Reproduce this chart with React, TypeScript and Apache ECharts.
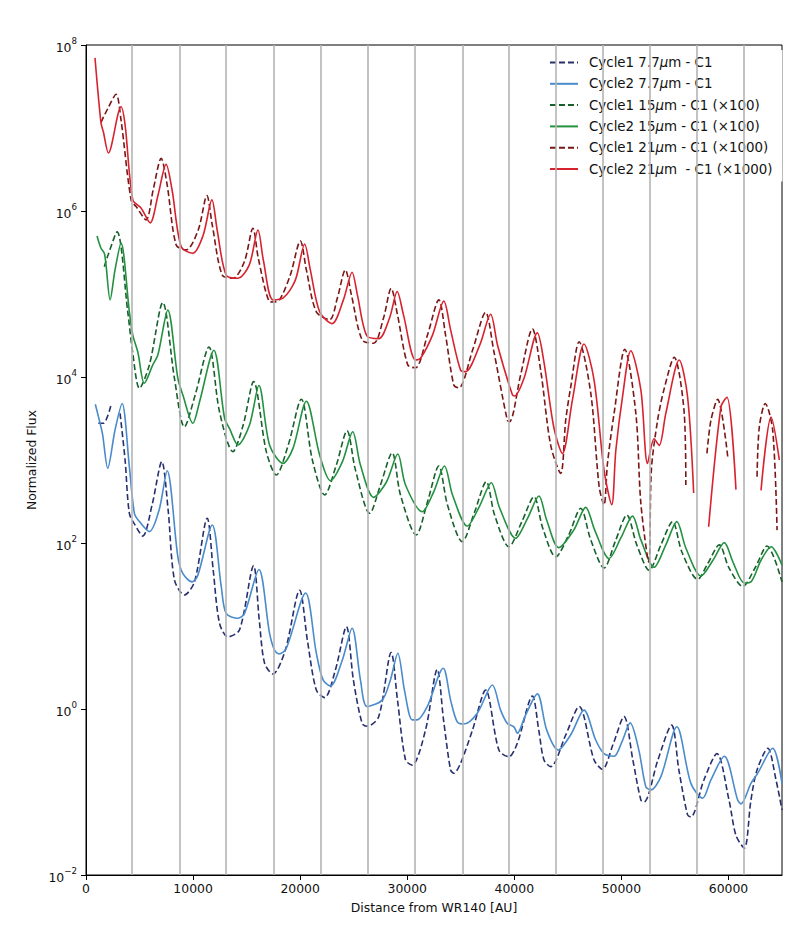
import React, { useEffect, useRef } from 'react';
import * as echarts from 'echarts';

// ---- data ----
const xTickStep = 10000;
const yTickValues = [0.01, 1, 100, 1e4, 1e6, 1e8];
const cycleLines = [4300, 8730, 13090, 17520, 21910, 26350, 30710, 35140, 39500, 43870, 48230, 52630, 57050, 61420];

const names = [
  'Cycle1 7.7μm - C1',
  'Cycle2 7.7μm - C1',
  'Cycle1 15μm - C1 (×100)',
  'Cycle2 15μm - C1 (×100)',
  'Cycle1 21μm - C1 (×1000)',
  'Cycle2 21μm  - C1 (×1000)',
];

const cycle1_7p7 = [
  [1150, 2.77e3], [1620, 2.77e3], [2340, 4.6e3], [2800, null], [3180, 3.65e3], [3650, 1.0e3], [4050, 228], [4580, 165],
  [5300, 121], [6170, 287], [7080, 955], [7670, 250], [8260, 36], [9190, 23.6], [10130, 34], [11320, 199], [11880, 47],
  [12470, 10.8], [13250, 7.4], [14340, 9.0], [15650, 53], [16180, 11.8], [16680, 3.55], [17460, 2.64], [18610, 5.1],
  [19950, 27], [20670, 6.8], [21510, 1.69], [22290, 1.37], [23290, 2.95], [24320, 9.8], [24970, 2.24], [25790, 0.67],
  [26250, 0.62], [27340, 0.81], [28500, 4.8], [29090, 1.28], [29840, 0.243], [30460, 0.211], [31710, 0.56], [32800, 3.0],
  [33390, 0.74], [34050, 0.184], [34350, 0.168], [34980, 0.222], [36100, 0.56], [37320, 1.69], [38560, 0.32], [39500, 0.266],
  [40280, 0.386], [41690, 1.43], [42280, 0.56], [42770, 0.243], [43400, 0.202], [44800, 0.486], [46050, 1.07], [47450, 0.243],
  [48230, 0.188], [49200, 0.368], [50250, 0.81], [51070, 0.243], [51820, 0.08], [52120, 0.076], [53410, 0.243], [54690, 0.64],
  [55370, 0.184], [56180, 0.053], [56490, 0.05], [57710, 0.14], [58920, 0.29], [60050, 0.08], [60700, 0.03], [61480, 0.021],
  [62100, 0.08], [62670, 0.184], [63670, 0.336], [64440, 0.14], [65000, 0.061],
];

const cycle2_7p7 = [
  [870, 4.7e3], [1400, 2.5e3], [1560, 2.0e3], [2030, 794], [2710, 2.3e3], [3370, 4.8e3], [4050, 830], [4520, 228],
  [4990, 181], [5920, 137], [6830, 250], [7580, 743], [8580, 68], [9040, 43], [9910, 34], [10450, 41], [11790, 165],
  [12630, 30], [13090, 14.2], [14190, 12.4], [14810, 14.2], [16150, 48], [17140, 8.2], [17610, 5.1], [18020, 4.6],
  [18710, 5.4], [20510, 25], [21510, 4.7], [22140, 2.24], [22820, 1.89], [23940, 3.9], [24850, 9.4], [25630, 2.24],
  [26250, 1.07], [27660, 1.28], [28430, 2.24], [29120, 4.7], [29740, 1.69], [30460, 0.74], [30930, 0.74], [31870, 1.07],
  [33360, 3.1], [34050, 1.28], [34670, 0.7], [35290, 0.66], [36540, 0.89], [37950, 1.95], [38720, 0.97], [39350, 0.67],
  [39970, 0.61], [40280, 0.51], [41060, 0.85], [42150, 1.52], [43020, 0.56], [44100, 0.32], [45270, 0.49], [46510, 0.97],
  [47610, 0.42], [48380, 0.29], [49320, 0.27], [50040, 0.4], [50820, 0.68], [51630, 0.32], [52280, 0.116], [52750, 0.106],
  [53690, 0.153], [55180, 0.61], [56490, 0.127], [57590, 0.084], [58360, 0.14], [59610, 0.27], [60860, 0.08], [61170, 0.072],
  [62100, 0.127], [62730, 0.168], [64130, 0.336], [65000, 0.127],
];

const cycle1_15 = [
  [1710, 2.13e5], [2060, 2.95e5], [2900, 5.6e5], [3900, 6.1e4], [4370, 1.93e4], [4990, 7.3e3], [5920, 1.4e4], [7170, 7.9e4],
  [8260, 9.6e3], [9190, 2.5e3], [10200, 6.1e3], [11480, 2.3e4], [12470, 3.8e3], [13720, 1.26e3], [14680, 2.64e3], [15650, 8.8e3],
  [16840, 1.26e3], [17770, 660], [18890, 1.52e3], [20110, 5.4e3], [21140, 1.0e3], [22290, 379], [23380, 870], [24380, 2.25e3],
  [25160, 760], [26500, 228], [27500, 500], [28590, 1.22e3], [29370, 379], [30840, 125], [31890, 312], [32950, 847],
  [33760, 287], [35140, 104], [36290, 236], [37380, 548], [38160, 217], [39500, 90], [40690, 179], [41840, 361],
  [42650, 152], [43870, 68], [45080, 125], [46200, 262], [47140, 109], [48380, 50], [49480, 109], [50510, 217],
  [51440, 95], [52590, 47], [53690, 95], [54780, 181], [55650, 78], [57120, 36.5], [58080, 57], [59140, 95],
  [60050, 50], [61330, 30], [62480, 50], [63600, 92], [65000, 34],
];

const cycle2_15 = [
  [1030, 5.0e5], [1400, 3.56e5], [1710, 3.1e5], [1870, 2.24e5], [2250, 8.5e4], [2710, 1.95e5], [3270, 4.1e5], [4050, 6.1e4],
  [4370, 3.2e4], [4840, 2.0e4], [5450, 8.4e3], [6240, 1.4e4], [6710, 1.84e4], [7640, 6.4e4], [8580, 9.6e3], [9040, 6.1e3],
  [9980, 2.77e3], [10600, 5.0e3], [11940, 2.1e4], [12940, 3.2e3], [13400, 2.4e3], [14190, 1.52e3], [15270, 2.64e3], [16150, 7.9e3],
  [17140, 1.52e3], [18400, 910], [19330, 1.38e3], [20580, 5.1e3], [21820, 1.15e3], [22820, 563], [23940, 950], [24910, 2.19e3],
  [25630, 870], [26870, 355], [28060, 543], [29120, 1.18e3], [29840, 500], [31400, 238], [32460, 411], [33480, 847],
  [34230, 379], [35610, 160], [36760, 279], [37850, 533], [38630, 264], [40120, 114], [41250, 200], [42300, 368],
  [43020, 189], [44150, 88], [45550, 143], [46670, 269], [47510, 143], [48850, 65], [49950, 115], [51040, 211],
  [51820, 109], [53060, 51], [54150, 95], [55180, 181], [56020, 87], [57430, 40], [58550, 62], [59610, 101],
  [60420, 59], [61480, 33], [62100, 34], [63040, 62], [63980, 90], [65000, 54],
];

const cycle1_21 = [
  [1400, 1.17e7], [2060, 1.74e7], [2810, 2.55e7], [3270, 1.25e7], [4210, 1.36e6], [4680, 1.13e6], [5610, 7.8e5], [6270, 1.79e6],
  [7020, 4.3e6], [7580, 2.06e6], [8420, 3.9e5], [9350, 3.4e5], [10480, 5.9e5], [11290, 1.53e6], [11790, 6.8e5], [12720, 1.69e5],
  [13720, 1.55e5], [14780, 2.43e5], [15590, 6.2e5], [16090, 2.7e5], [17090, 8.2e4], [17490, 8.0e4], [18080, 8.5e4], [19080, 1.69e5],
  [20020, 4.35e5], [20580, 1.95e5], [21510, 6.1e4], [22760, 4.9e4], [23480, 9.0e4], [24220, 1.95e5], [24790, 9.7e4], [25790, 2.8e4],
  [26870, 2.55e4], [27780, 5.1e4], [28500, 1.17e5], [29090, 5.6e4], [30050, 1.4e4], [30770, 1.29e4], [31890, 3.2e4], [32950, 8.5e4],
  [33580, 3.2e4], [34350, 8.0e3], [34820, 7.4e3], [36100, 2.1e4], [37320, 6.0e4], [38070, 2.1e4], [39350, 3.0e3], [39560, 2.9e3],
  [40590, 1.06e4], [41690, 3.8e4], [42460, 1.21e4], [43400, 1.5e3], [44330, 690], [44800, 3.0e3], [45270, 7.6e3], [46050, 2.66e4],
  [47140, 6.4e3], [47920, 480], [48380, 287], [48700, 910], [49320, 3.65e3], [50320, 2.16e4], [51350, 3.65e3], [51820, 300],
  [52560, 59], [52800, 760], [53380, 3.0e3], [53970, 7.0e3], [54930, 1.73e4], [55870, 3.65e3], [56020, 500], [57000, null],
  [57990, 1.2e3], [58360, 3.0e3], [58990, 5.4e3], [59930, 1.1e3], [61000, null], [62670, 630], [62880, 2.5e3], [63440, 4.8e3],
  [64130, 2.3e3], [64540, 143],
];

const cycle2_21 = [
  [840, 7.0e7], [1400, 1.15e7], [1620, 9.0e6], [2090, 5.0e6], [3270, 1.8e7], [3650, 1.09e7], [4370, 1.36e6], [5140, 1.09e6],
  [5990, 7.2e5], [6730, 1.56e6], [7480, 3.65e6], [8040, 1.79e6], [8890, 3.7e5], [9980, 3.1e5], [10940, 5.1e5], [11760, 1.36e6],
  [12250, 5.9e5], [13090, 1.69e5], [14190, 1.55e5], [15250, 2.24e5], [16060, 5.9e5], [16560, 2.57e5], [17460, 8.5e4], [18400, 8.9e4],
  [19550, 1.47e5], [20420, 4.0e5], [20950, 1.95e5], [21820, 6.1e4], [22980, 4.4e4], [24040, 8.5e4], [24850, 1.83e5], [25350, 9.7e4],
  [26250, 3.1e4], [27340, 2.9e4], [28340, 5.1e4], [29060, 1.07e5], [29650, 5.6e4], [30770, 1.6e4], [31240, 1.68e4], [32360, 3.2e4],
  [33420, 8.2e4], [34050, 3.7e4], [34980, 1.21e4], [35450, 1.16e4], [36760, 2.4e4], [37790, 5.7e4], [38440, 2.4e4], [39820, 6.1e3],
  [40030, 5.9e3], [40900, 9.6e3], [42150, 3.4e4], [42740, 1.6e4], [43710, 2.4e3], [44490, 1.2e3], [45430, 5.3e3], [46510, 2.5e4],
  [47450, 9.2e3], [48380, 760], [49100, 290], [49480, 1.3e3], [50130, 6.1e3], [50880, 2.07e4], [51820, 7.0e3], [52440, 910],
  [53060, 1.8e3], [53530, 1.5e3], [54150, 3.65e3], [55400, 1.6e4], [56180, 5.8e3], [56750, 400], [57500, null], [58150, 157],
  [59300, 4.4e3], [59860, 5.7e3], [60700, 440], [61800, null], [63040, 430], [63980, 3.3e3], [64750, 1.0e3],
];

const seriesData = [cycle1_7p7, cycle2_7p7, cycle1_15, cycle2_15, cycle1_21, cycle2_21];
const seriesColors = ['#27306f', '#4a8bcb', '#17602c', '#239140', '#7a1616', '#d8232f'];
const seriesDashed = [true, false, true, false, true, false];

const FONT = 'DejaVu Sans';

function supLabel(v: number) {
  const e = Math.round(Math.log10(v));
  const s = e < 0 ? '\u2212' + String(-e) : String(e);
  return '{b|10}{s|' + s + '}';
}

export default function App() {
  const ref = useRef<HTMLDivElement>(null);
  useEffect(() => {
    document.body.style.margin = '0';
    const chart = echarts.init(ref.current!, null, { renderer: 'svg' });
    const lines: any[] = names.map((name, i) => ({
      type: 'line',
      name,
      data: seriesData[i],
      symbol: 'none',
      showSymbol: false,
      smooth: 0.3,
      connectNulls: false,
      z: 3,
      silent: true,
      lineStyle: { color: seriesColors[i], width: 1.6, type: seriesDashed[i] ? [6, 3] : 'solid' },
      itemStyle: { color: seriesColors[i] },
    }));
    const option: any = {
      animation: false,
      backgroundColor: '#ffffff',
      textStyle: { fontFamily: FONT },
      grid: { left: 86, right: 30, top: 45, bottom: 72, show: true, borderColor: '#000', borderWidth: 1 },
      legend: {
        orient: 'vertical',
        left: 535,
        top: 50,
        itemWidth: 28,
        itemHeight: 14,
        itemGap: 8.3,
        padding: [6, 10, 6, 14],
        backgroundColor: '#ffffff',
        data: names,
        itemStyle: { opacity: 0, borderWidth: 0 },
        formatter: (n: string) => n.replace('μ', '{i|μ}'),
        textStyle: {
          fontFamily: FONT,
          fontSize: 13.4,
          color: '#111',
          padding: [0, 0, 0, 6],
          rich: { i: { fontFamily: FONT, fontSize: 13.4, fontStyle: 'italic', color: '#111' } },
        },
      },
      xAxis: {
        type: 'value',
        min: 0,
        max: 65000,
        interval: xTickStep,
        name: 'Distance from WR140 [AU]',
        nameLocation: 'middle',
        nameGap: 26,
        nameTextStyle: { fontFamily: FONT, fontSize: 12.4, color: '#111' },
        axisLine: { show: true, lineStyle: { color: '#000', width: 1 } },
        axisTick: { show: true, length: 5, lineStyle: { color: '#000' } },
        axisLabel: {
          fontFamily: FONT,
          fontSize: 12.4,
          color: '#111',
          margin: 7,
          showMaxLabel: false,
          formatter: (v: number) => String(v),
        },
        splitLine: { show: false },
      },
      yAxis: {
        type: 'log',
        logBase: 10,
        min: 0.01,
        max: 1e8,
        interval: 2,
        name: 'Normalized Flux',
        nameLocation: 'middle',
        nameGap: 46,
        nameRotate: 90,
        nameTextStyle: { fontFamily: FONT, fontSize: 12.4, color: '#111' },
        axisLine: { show: true, lineStyle: { color: '#000', width: 1 } },
        axisTick: { show: true, length: 5, lineStyle: { color: '#000' }, customValues: yTickValues },
        minorTick: { show: false },
        axisLabel: {
          margin: 9,
          customValues: yTickValues,
          formatter: supLabel,
          rich: {
            b: { fontFamily: FONT, fontSize: 12.4, color: '#111', lineHeight: 17, verticalAlign: 'bottom' },
            s: { fontFamily: FONT, fontSize: 8.7, color: '#111', lineHeight: 17, verticalAlign: 'top' },
          },
        },
        splitLine: { show: false },
      },
      series: [
        {
          type: 'line',
          data: [],
          silent: true,
          z: 1,
          markLine: {
            silent: true,
            symbol: 'none',
            animation: false,
            label: { show: false },
            emphasis: { disabled: true },
            lineStyle: { color: '#b4b4b4', width: 1.6, type: 'solid' },
            data: cycleLines.map((x) => ({ xAxis: x })),
          },
        },
        ...lines,
      ],
    };
    chart.setOption(option);
    return () => chart.dispose();
  }, []);
  return <div ref={ref} style={{ width: 812, height: 947 }} />;
}
